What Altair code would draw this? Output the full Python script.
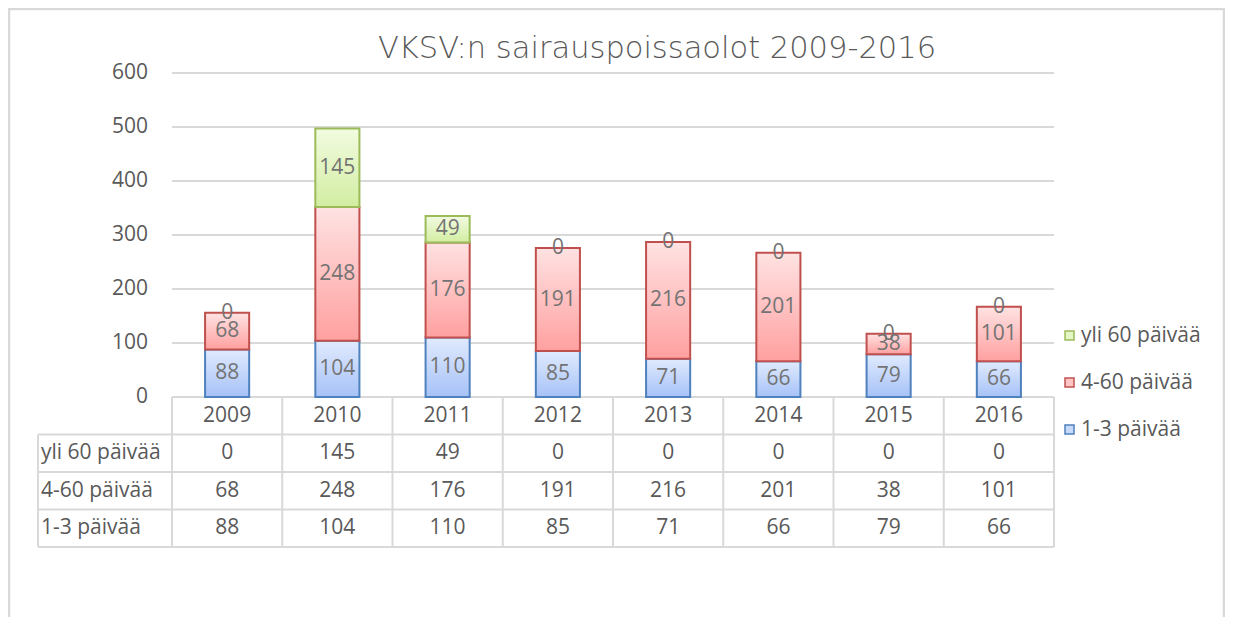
import altair as alt
import pandas as pd

# ---------------- data ----------------
years = ["2009", "2010", "2011", "2012", "2013", "2014", "2015", "2016"]
series = ["yli 60 päivää", "4-60 päivää", "1-3 päivää"]   # table / legend order
yli60 = [0, 145, 49, 0, 0, 0, 0, 0]
d4_60 = [68, 248, 176, 191, 216, 201, 38, 101]
d1_3 = [88, 104, 110, 85, 71, 66, 79, 66]
y_ticks = [0, 100, 200, 300, 400, 500, 600]
title_text = "VKSV:n sairauspoissaolot 2009-2016"

values = {series[0]: yli60, series[1]: d4_60, series[2]: d1_3}
stack_rank = {series[2]: 0, series[1]: 1, series[0]: 2}

recs = []
for s in series:
    for yr, v in zip(years, values[s]):
        recs.append({"year": yr, "series": s, "value": v,
                     "order": stack_rank[s], "row": series.index(s) + 1})
df = pd.DataFrame(recs)
df_years = pd.DataFrame({"year": years})
df_labels = pd.DataFrame({"label": series, "row": [1, 2, 3]})
df_hlines = pd.DataFrame({"b": [1, 2, 3, 4]})
df_ticks = pd.DataFrame({"tick": y_ticks})
df_one = pd.DataFrame({"k": [0]})

# ---------------- layout / style ----------------
FONT = "Open Sans"
TXT = "#595959"
LBL = "#737373"
GRID = "#d9d9d9"
W = 882
PLOT_H = 324
TABLE_H = 150
H = PLOT_H + TABLE_H
LABEL_COL = 134
YMAX = 600
y_bottom = YMAX - H * YMAX / PLOT_H

xscale = alt.Scale(domain=years, paddingInner=0, paddingOuter=0)
yscale = alt.Scale(domain=[y_bottom, YMAX], nice=False, zero=False)
tscale = alt.Scale(domain=[0, 4], range=[PLOT_H, H], nice=False, zero=False)

styles = {
    series[2]: ("#e0eafd", "#a6c2f8", "#4f81bd"),
    series[1]: ("#ffe2e2", "#ffa0a0", "#c0504d"),
    series[0]: ("#f2fbe0", "#d2eda2", "#9bbb59"),
}
legend_fill = ["#e4f5c6", "#ffc4c4", "#c8daf9"]
legend_stroke = [styles[s][2] for s in series]

# value axis: gridlines as rules, labels as text from the tick list
grid = alt.Chart(df_ticks).mark_rule(color=GRID, strokeWidth=2).encode(
    y=alt.Y("tick:Q", scale=yscale, axis=None),
    x=alt.value(0), x2=alt.value(W),
)
tick_labels = alt.Chart(df_ticks).mark_text(
    font=FONT, fontSize=21, color=TXT, align="right"
).encode(
    y=alt.Y("tick:Q", scale=yscale, axis=None),
    x=alt.value(-24),
    text="tick:Q",
)

base = alt.Chart(df).transform_stack(
    stack="value", groupby=["year"], as_=["y0", "y1"],
    sort=[alt.SortField("order", order="ascending")]
)

bar_layers = []
for s in [series[2], series[1], series[0]]:
    top, bot, stroke = styles[s]
    bar_layers.append(
        base.transform_filter((alt.datum.series == s) & (alt.datum.value > 0))
        .mark_bar(
            width={"band": 0.4},
            fill=alt.Gradient(gradient="linear",
                              stops=[alt.GradientStop(offset=0, color=top),
                                     alt.GradientStop(offset=1, color=bot)],
                              x1=0, x2=0, y1=0, y2=1),
            stroke=stroke, strokeWidth=2,
        )
        .encode(
            x=alt.X("year:N", scale=xscale, axis=None),
            y=alt.Y("y0:Q", scale=yscale, axis=None),
            y2="y1:Q",
        )
    )

bar_text = base.transform_calculate(mid="(datum.y0 + datum.y1) / 2").mark_text(
    font=FONT, fontSize=21, color=LBL
).encode(
    x=alt.X("year:N", scale=xscale, axis=None),
    y=alt.Y("mid:Q", scale=yscale, axis=None),
    text="value:Q",
)

leg = alt.Legend(title=None, orient="none", legendX=887, legendY=252,
                 symbolType="square", symbolSize=81, symbolStrokeWidth=1.5,
                 labelFont=FONT, labelFontSize=21, labelColor=TXT,
                 rowPadding=25, labelOffset=1, padding=0)
legend_layer = base.transform_filter(alt.datum.value < 0).mark_bar().encode(
    x=alt.X("year:N", scale=xscale, axis=None),
    y=alt.Y("y0:Q", scale=yscale, axis=None),
    fill=alt.Fill("series:N", scale=alt.Scale(domain=series, range=legend_fill), legend=leg),
    stroke=alt.Stroke("series:N", scale=alt.Scale(domain=series, range=legend_stroke), legend=leg),
)

bar_group = alt.layer(grid, tick_labels, *bar_layers, bar_text, legend_layer)

# ---------------- data table ----------------
cells = alt.Chart(df).transform_calculate(pos="datum.row + 0.5").mark_text(
    font=FONT, fontSize=21, color=TXT
).encode(
    x=alt.X("year:N", scale=xscale, axis=None),
    y=alt.Y("pos:Q", scale=tscale, axis=None),
    text="value:Q",
)
header = alt.Chart(df_years).transform_calculate(pos="0.5").mark_text(
    font=FONT, fontSize=21, color=TXT
).encode(
    x=alt.X("year:N", scale=xscale, axis=None),
    y=alt.Y("pos:Q", scale=tscale, axis=None),
    text="year:N",
)
row_labels = alt.Chart(df_labels).transform_calculate(pos="datum.row + 0.5").mark_text(
    font=FONT, fontSize=21, color=TXT, align="left"
).encode(
    x=alt.value(-LABEL_COL + 3),
    y=alt.Y("pos:Q", scale=tscale, axis=None),
    text="label:N",
)
hlines = alt.Chart(df_hlines).mark_rule(color=GRID, strokeWidth=2).encode(
    x=alt.value(-LABEL_COL), x2=alt.value(W),
    y=alt.Y("b:Q", scale=tscale, axis=None),
)
vlines = alt.Chart(df_years).transform_calculate(t="0", b="4").mark_rule(
    color=GRID, strokeWidth=2
).encode(
    x=alt.X("year:N", scale=xscale, axis=None, bandPosition=0),
    y=alt.Y("t:Q", scale=tscale, axis=None), y2="b:Q",
)
edges = alt.Chart(df_one).transform_calculate(t="0", b="4", t2="1").mark_rule(
    color=GRID, strokeWidth=2
)
right_edge = edges.encode(x=alt.value(W), y=alt.Y("t:Q", scale=tscale, axis=None), y2="b:Q")
left_edge = edges.encode(x=alt.value(-LABEL_COL), y=alt.Y("t2:Q", scale=tscale, axis=None), y2="b:Q")

table_group = alt.layer(hlines, vlines, right_edge, left_edge, header, row_labels, cells)

border = alt.Chart(df_one).mark_rect(fillOpacity=0, stroke=GRID, strokeWidth=2.5).encode(
    x=alt.value(-163), x2=alt.value(1052), y=alt.value(-64), y2=alt.value(H + 200)
)

chart = alt.layer(border, bar_group, table_group).resolve_scale(y="independent").properties(
    width=W, height=H,
    background="white",
    title=alt.TitleParams(title_text, font="DejaVu Sans", fontSize=30.5, fontWeight=200,
                          color=TXT, anchor="middle", frame="group", dx=44, dy=81,
                          offset=0, baseline="alphabetic"),
    autosize=alt.AutoSizeParams(type="none"),
    padding={"left": 164, "top": 65, "right": 171, "bottom": 70},
).configure_view(stroke="transparent", strokeWidth=0)

chart.save("out.html", embed_options={"renderer": "svg", "actions": False})
